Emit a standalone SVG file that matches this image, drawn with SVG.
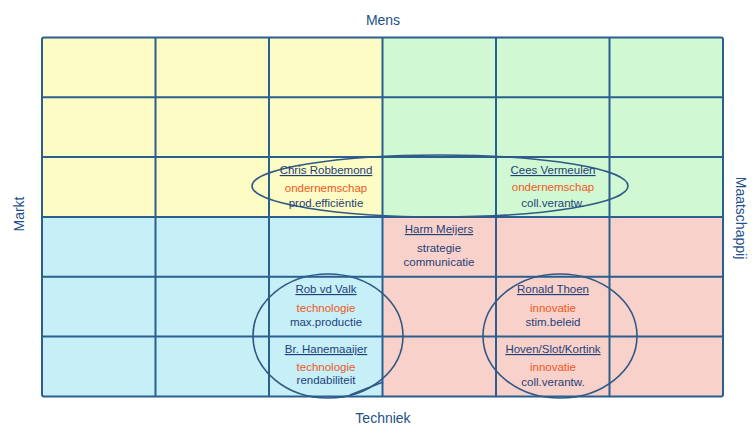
<svg xmlns="http://www.w3.org/2000/svg" width="755" height="426" viewBox="0 0 755 426">
  <style>
    .axis { font-family: "Liberation Sans", Arial, sans-serif; font-size: 14px; fill: #24508a; text-anchor: middle; }
    .name { font-family: "Liberation Sans", Arial, sans-serif; font-size: 11.5px; fill: #1f3f78; text-anchor: middle; text-decoration: underline; }
    .role { font-family: "Liberation Sans", Arial, sans-serif; font-size: 11.5px; fill: #f0581e; text-anchor: middle; }
    .aim  { font-family: "Liberation Sans", Arial, sans-serif; font-size: 11.5px; fill: #1f3f78; text-anchor: middle; }
    .grid { stroke: #2b5f8f; stroke-width: 2; fill: none; }
    .ring { stroke: #2f5a86; stroke-width: 1.6; fill: none; }
  </style>

  <rect width="755" height="426" fill="#ffffff"/>

  <!-- quadrant fills -->
  <g id="quadrants">
    <rect x="42" y="37.5" width="340.5" height="179.5" fill="#fcfcc4"/>
    <rect x="382.5" y="37.5" width="340.5" height="179.5" fill="#d0f8d2"/>
    <rect x="42" y="217" width="340.5" height="179.5" fill="#c6eff8"/>
    <rect x="382.5" y="217" width="340.5" height="179.5" fill="#f8d2ca"/>
  </g>

  <!-- 6 x 6 grid -->
  <g id="grid" class="grid">
    <rect x="42" y="37.5" width="681" height="359" rx="2"/>
    <path d="M155.5 37.5V396.5M269 37.5V396.5M382.5 37.5V396.5M496 37.5V396.5M609.5 37.5V396.5"/>
    <path d="M42 97.3H723M42 157H723M42 217H723M42 276.8H723M42 336.6H723"/>
  </g>

  <!-- axis labels -->
  <g id="axes">
    <text class="axis" x="383" y="25">Mens</text>
    <text class="axis" x="383" y="423">Techniek</text>
    <text class="axis" transform="translate(24 214) rotate(-90)">Markt</text>
    <text class="axis" transform="translate(736 218) rotate(90)">Maatschappij</text>
  </g>

  <!-- groupings -->
  <g id="connectors">
    <ellipse class="ring" cx="440" cy="186" rx="188" ry="31"/>
    <ellipse class="ring" cx="328" cy="336" rx="75" ry="62"/>
    <ellipse class="ring" cx="560" cy="336" rx="77" ry="62"/>
    <line class="ring" x1="350" y1="395" x2="383" y2="382"/>
  </g>

  <g id="chris">
    <text class="name" x="326" y="174">Chris Robbemond</text>
    <text class="role" x="326" y="192">ondernemschap</text>
    <text class="aim" x="326" y="207">prod.efficiëntie</text>
  </g>
  <g id="cees">
    <text class="name" x="553" y="174">Cees Vermeulen</text>
    <text class="role" x="553" y="191">ondernemschap</text>
    <text class="aim" x="553" y="207">coll.verantw.</text>
  </g>
  <g id="harm">
    <text class="name" x="439" y="233">Harm Meijers</text>
    <text class="aim" x="439" y="252">strategie</text>
    <text class="aim" x="439" y="266">communicatie</text>
  </g>
  <g id="rob">
    <text class="name" x="326" y="293">Rob vd Valk</text>
    <text class="role" x="326" y="312">technologie</text>
    <text class="aim" x="326" y="326">max.productie</text>
  </g>
  <g id="hanemaaijer">
    <text class="name" x="326" y="353">Br. Hanemaaijer</text>
    <text class="role" x="326" y="371">technologie</text>
    <text class="aim" x="326" y="384">rendabiliteit</text>
  </g>
  <g id="ronald">
    <text class="name" x="553" y="293">Ronald Thoen</text>
    <text class="role" x="553" y="312">innovatie</text>
    <text class="aim" x="553" y="326">stim.beleid</text>
  </g>
  <g id="hoven">
    <text class="name" x="553" y="353">Hoven/Slot/Kortink</text>
    <text class="role" x="553" y="371">innovatie</text>
    <text class="aim" x="553" y="386">coll.verantw.</text>
  </g>
</svg>
